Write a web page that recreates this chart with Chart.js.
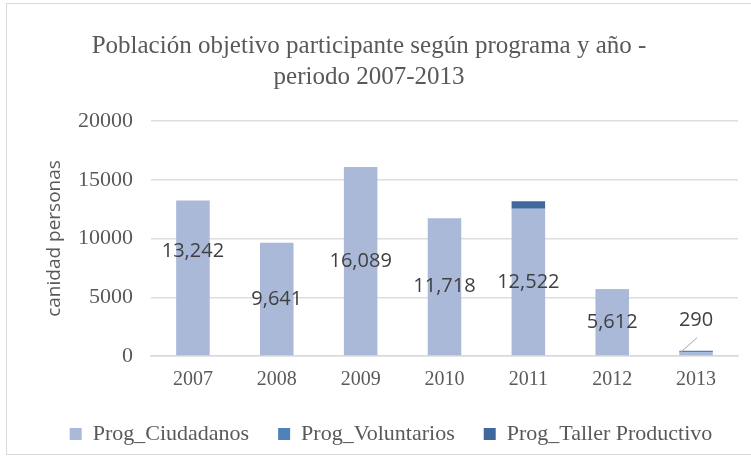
<!DOCTYPE html>
<html>
<head>
<meta charset="utf-8">
<script src="https://cdn.jsdelivr.net/npm/chart.js@4"></script>
<style>
  body { margin: 0; background: #fff; }
  #wrap { width: 751px; height: 457px; }
</style>
</head>
<body>
<div id="wrap"><canvas id="chart" width="751" height="457"></canvas></div>
<script>
const years = ["2007", "2008", "2009", "2010", "2011", "2012", "2013"];
const ciudadanos = [13242, 9641, 16089, 11718, 12522, 5612, 290];
const voluntarios = [0, 0, 0, 0, 0, 40, 160];
const tallerProductivo = [0, 0, 0, 0, 650, 0, 0];
const yMax = 20000;
const yStep = 5000;

const titleLines = ["Población objetivo participante según programa y año -", "periodo 2007-2013"];

// label for the first bar sits a bit higher than the middle
const labelNudge = { 0: -27 };

const frame = {
  id: "frame",
  beforeDraw(chart) {
    const ctx = chart.ctx;
    ctx.save();
    ctx.fillStyle = "#fff";
    ctx.fillRect(0, 0, chart.width, chart.height);
    ctx.strokeStyle = "#d9d9d9";
    ctx.lineWidth = 1;
    ctx.strokeRect(6.5, 3.5, 770, 451);
    ctx.restore();
  }
};

// legend in the original sits a little right of centre
const legendShift = {
  id: "legendShift",
  afterLayout(chart) {
    chart.legend.left += 22;
    chart.legend.right += 22;
  }
};

const barLabels = {
  id: "barLabels",
  afterDatasetsDraw(chart) {
    const ctx = chart.ctx;
    const meta = chart.getDatasetMeta(0);
    const yScale = chart.scales.y;
    ctx.save();
    ctx.font = "20px 'Open Sans'";
    ctx.fillStyle = "#404040";
    ctx.textAlign = "center";
    ctx.textBaseline = "middle";
    meta.data.forEach((bar, i) => {
      const text = ciudadanos[i].toLocaleString("en-US");
      if (bar.base - bar.y < 30) {
        const total = ciudadanos[i] + voluntarios[i] + tallerProductivo[i];
        const ly = yScale.getPixelForValue(total) - 30;
        ctx.fillText(text, bar.x, ly);
        ctx.strokeStyle = "#a6a6a6";
        ctx.lineWidth = 1;
        ctx.beginPath();
        ctx.moveTo(bar.x - bar.width / 2 + 1, bar.y);
        ctx.lineTo(bar.x + 1, ly + 17);
        ctx.stroke();
      } else {
        ctx.fillText(text, bar.x, (bar.y + bar.base) / 2 + (labelNudge[i] || 0));
      }
    });
    ctx.restore();
  }
};

const ctx = document.getElementById("chart").getContext("2d");
new Chart(ctx, {
  type: "bar",
  data: {
    labels: years,
    datasets: [
      { label: "Prog_Ciudadanos", data: ciudadanos, backgroundColor: "#aab9d8" },
      { label: "Prog_Voluntarios", data: voluntarios, backgroundColor: "#4f81bd" },
      { label: "Prog_Taller Productivo", data: tallerProductivo, backgroundColor: "#40689e" },
    ],
  },
  options: {
    responsive: false,
    devicePixelRatio: 1,
    animation: false,
    categoryPercentage: 1,
    barPercentage: 0.4,
    layout: { padding: { left: 0, right: 13, top: 0, bottom: 2 } },
    plugins: {
      title: {
        display: true,
        text: titleLines,
        color: "#595959",
        font: { family: "'Liberation Serif'", size: 25, weight: "normal", lineHeight: 1.24 },
        padding: { top: 31, bottom: 28 },
      },
      legend: {
        position: "bottom",
        labels: {
          color: "#595959",
          font: { family: "'Liberation Serif'", size: 22 },
          boxWidth: 12,
          boxHeight: 12,
          padding: 29,
        },
      },
      tooltip: { enabled: false },
    },
    scales: {
      x: {
        stacked: true,
        grid: { display: false, drawTicks: false },
        border: { color: "#d9d9d9", width: 1.5 },
        ticks: {
          color: "#595959",
          font: { family: "'Liberation Serif'", size: 20 },
          padding: 12,
        },
        afterFit: (scale) => { scale.height = 38; },
      },
      y: {
        stacked: true,
        min: 0,
        max: yMax,
        border: { display: false },
        grid: { color: "#dedede", lineWidth: 1.5, drawTicks: false },
        ticks: {
          stepSize: yStep,
          color: "#595959",
          font: { family: "'Liberation Serif'", size: 22 },
          padding: 18,
          callback: (v) => String(v),
        },
        title: {
          display: true,
          text: "canidad personas",
          color: "#595959",
          font: { family: "'Open Sans'", size: 19 },
          padding: { top: 43, bottom: 0 },
        },
        afterFit: (scale) => { scale.width = 151; },
      },
    },
  },
  plugins: [frame, legendShift, barLabels],
});
</script>
</body>
</html>
